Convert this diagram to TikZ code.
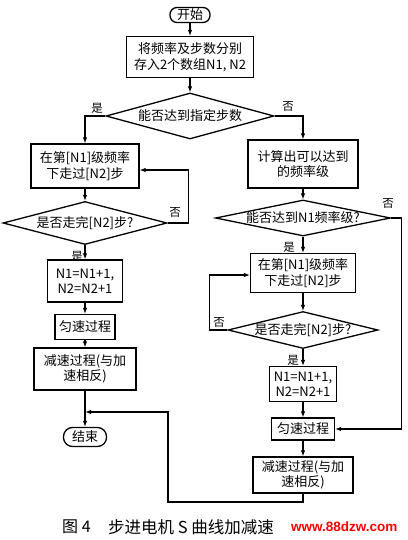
\documentclass[tikz,border=0pt]{standalone}
\usepackage{fontspec}
\setmainfont{Noto Sans CJK SC}
\newfontfamily\markfont{Liberation Sans}
\usetikzlibrary{shapes.geometric,arrows.meta}

\tikzset{
  every node/.style={font=\fontsize{13}{15.5}\selectfont},
  box/.style={draw, line width=1.3pt, inner sep=0pt, align=center},
  term/.style={draw, line width=1.3pt, rounded corners=7pt, inner sep=0pt},
  decide/.style={draw, diamond, line width=1.3pt, inner sep=0pt},
  flow/.style={line width=1.1pt, -{Latex[length=6pt,width=4.5pt]}},
  tag/.style={font=\fontsize{11.5}{13}\selectfont, inner sep=0pt},
}

\begin{document}
\begin{tikzpicture}[x=1pt,y=-1pt]
    \useasboundingbox (0,0) rectangle (407,540);

    % Start and input
    \node[term, minimum width=40pt, minimum height=15pt] (start) at (190,15) {开始};
    \node[box, minimum width=127pt, minimum height=41pt] (store) at (190,57) {将频率及步数分别\\存入2个数组N1, N2};
    \node[decide, minimum width=168pt, minimum height=46pt] (reach) at (190,116) {\makebox[0pt]{能否达到指定步数}};

    % Left branch
    \node[box, minimum width=108pt, minimum height=44pt] (runL) at (85,166) {在第[N1]级频率\\下走过[N2]步};
    \node[decide, minimum width=164pt, minimum height=43pt] (doneL) at (85,223) {\makebox[0pt]{是否走完[N2]步?}};
    \node[box, minimum width=75pt, minimum height=42pt] (incL) at (85,281) {N1=N1+1,\\N2=N2+1};
    \node[box, minimum width=60pt, minimum height=25pt] (constL) at (85,327) {匀速过程};
    \node[box, minimum width=102pt, minimum height=42pt] (decL) at (85,369) {减速过程(与加\\速相反)};
    \node[term, minimum width=43pt, minimum height=19pt, rounded corners=9pt] (stop) at (85,437) {结束};

    % Right branch
    \node[box, minimum width=110pt, minimum height=48pt] (calcR) at (303,164) {计算出可以达到\\的频率级};
    \node[decide, minimum width=175pt, minimum height=36pt] (reachR) at (303,218) {\makebox[0pt]{能否达到N1频率级?}};
    \node[box, minimum width=105pt, minimum height=39pt] (runR) at (303,273) {在第[N1]级频率\\下走过[N2]步};
    \node[decide, minimum width=150pt, minimum height=37pt] (doneR) at (303,330) {\makebox[0pt]{是否走完[N2]步?}};
    \node[box, minimum width=67pt, minimum height=35pt] (incR) at (303,384) {N1=N1+1,\\N2=N2+1};
    \node[box, minimum width=63pt, minimum height=22pt] (constR) at (303,429) {匀速过程};
    \node[box, minimum width=100pt, minimum height=36pt] (decR) at (303,475) {减速过程(与加\\速相反)};

    % Yes / no labels
    \node[tag] (yesA) at (97,108) {是};
    \node[tag] (noA) at (288,106) {否};
    \node[tag] (noB) at (175,212) {否};
    \node[tag] (yesB) at (77,256) {是};
    \node[tag] (noC) at (388,203) {否};
    \node[tag] (yesC) at (289,247) {是};
    \node[tag] (noD) at (219,322) {否};
    \node[tag] (yesD) at (293,360) {是};

    % Connectors
    \draw[flow] (start) -- (store);
    \draw[flow] (store) -- (reach);
    \draw[flow] (reach.west) -| (runL.north);
    \draw[flow] (reach.east) -| (calcR.north);
    \draw[flow] (runL) -- (doneL);
    \draw[flow] (doneL.east) -- ++(21,0) |- ([yshift=-4pt]runL.east);
    \draw[flow] (doneL) -- (incL);
    \draw[flow] (incL) -- (constL);
    \draw[flow] (constL) -- (decL);
    \draw[flow] (decL) -- (stop);
    \draw[flow] (calcR) -- (reachR);
    \draw[flow] (reachR) -- (runR);
    \draw[flow] (reachR.east) -- ++(10,0) |- (constR.east);
    \draw[flow] (runR) -- (doneR);
    \draw[flow] (doneR.west) -- ++(-18,0) |- ([yshift=-2pt]runR.west);
    \draw[flow] (doneR) -- (incR);
    \draw[flow] (incR) -- (constR);
    \draw[flow] (constR) -- (decR);
    \coordinate (back) at (168,502);
    \coordinate (merge) at (85,412);
    \draw[flow] (decR.south) |- (back) |- (merge);

    % Caption
    \node[anchor=west, inner sep=0pt, font=\fontsize{16}{18}\selectfont] (figno) at (62,527) {图 4};
    \node[anchor=west, inner sep=0pt, font=\fontsize{16.5}{18}\selectfont] (title) at (108,527) {步进电机 S 曲线加减速};
    \node[anchor=west, inner sep=0pt, text=red, font=\markfont\bfseries\fontsize{13.5}{16}\selectfont] (mark) at (291,527) {www.88dzw.com};
\end{tikzpicture}
\end{document}
